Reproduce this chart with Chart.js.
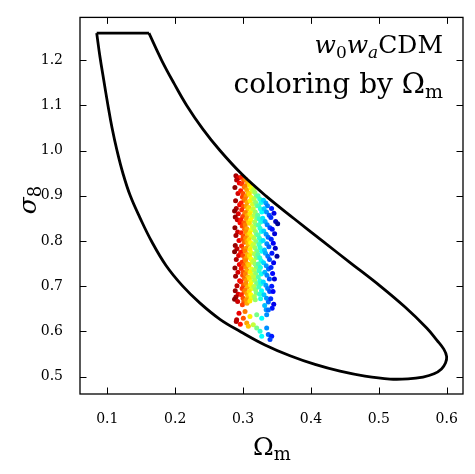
<!DOCTYPE html>
<html>
<head>
<meta charset="utf-8">
<script src="https://cdn.jsdelivr.net/npm/chart.js@4.4.1/dist/chart.umd.min.js"></script>
<style>
  body { margin: 0; background: #fff; overflow: hidden; }
</style>
</head>
<body>
<canvas id="myChart" width="475" height="474"></canvas>
<script>
// contour (closed curve), top edge kept as its own straight segment
const contourOmegaM = [0.1614, 0.1801, 0.1983, 0.2170, 0.2405, 0.2660, 0.2984, 0.3335, 0.3758, 0.4182,
  0.4600, 0.5017, 0.5386, 0.5705, 0.5857, 0.5957, 0.5999, 0.5982, 0.5923, 0.5813,
  0.5651, 0.5430, 0.5165, 0.4796, 0.4428, 0.4060, 0.3692, 0.3323, 0.2970, 0.2660,
  0.2366, 0.2108, 0.1865, 0.1654, 0.1482, 0.1339, 0.1231, 0.1143, 0.1069, 0.1010,
  0.0947, 0.0892, 0.0844];
const contourSigma8 = [1.2595, 1.1996, 1.1485, 1.0997, 1.0480, 1.0000, 0.9473, 0.8997, 0.8485, 0.7983,
  0.7495, 0.7007, 0.6538, 0.6075, 0.5803, 0.5607, 0.5443, 0.5301, 0.5170, 0.5061,
  0.4990, 0.4950, 0.4946, 0.5011, 0.5120, 0.5269, 0.5461, 0.5700, 0.5988, 0.6267,
  0.6625, 0.7007, 0.7458, 0.7988, 0.8511, 0.8997, 0.9492, 1.0000, 1.0508, 1.0997,
  1.1564, 1.2072, 1.2595];
const topEdgeOmegaM = [0.0844, 0.1614];
const topEdgeSigma8 = [1.2595, 1.2595];

// samples (colored by Omega_m)
const omegaM = [
  // dark red
  0.2895, 0.2935, 0.2905, 0.2945, 0.2880, 0.2925, 0.2890, 0.2950, 0.2900, 0.2875,
  0.2930, 0.2885, 0.2915, 0.2955, 0.2880, 0.2920, 0.2895, 0.2940, 0.2885, 0.2910,
  0.2875, 0.2935, 0.2900, 0.2945, 0.2880, 0.2925, 0.2890, 0.2950, 0.2910, 0.2885,
  0.2930, 0.2895, 0.2875, 0.2920, 0.2940, 0.2900, 0.2960,
  // red
  0.2975, 0.3010, 0.2985, 0.3020, 0.2965, 0.3000, 0.2990, 0.3015, 0.2970, 0.3005,
  0.2980, 0.3025, 0.2995, 0.2968, 0.3012, 0.2988, 0.3022, 0.2972, 0.3002, 0.2992,
  0.3018, 0.2978, 0.3008, 0.2966, 0.2998, 0.3024, 0.2984, 0.3014, 0.2974, 0.3004,
  0.2994, 0.3020, 0.2970, 0.3006, 0.2986, 0.3016, 0.2976, 0.3000, 0.3012, 0.2990,
  // orange
  0.3040, 0.3065, 0.3030, 0.3055, 0.3075, 0.3045, 0.3028, 0.3060, 0.3050, 0.3072,
  0.3035, 0.3062, 0.3048, 0.3078, 0.3032, 0.3056, 0.3042, 0.3068, 0.3038, 0.3058,
  0.3074, 0.3046, 0.3030, 0.3064, 0.3052, 0.3036, 0.3070, 0.3044, 0.3060, 0.3034,
  0.3076, 0.3050, 0.3040, 0.3066, 0.3032, 0.3054, 0.3072, 0.3046, 0.3058,
  // yellow
  0.3095, 0.3115, 0.3135, 0.3090, 0.3125, 0.3105, 0.3140, 0.3085, 0.3120, 0.3100,
  0.3130, 0.3110, 0.3092, 0.3138, 0.3118, 0.3098, 0.3128, 0.3088, 0.3112, 0.3134,
  0.3102, 0.3122, 0.3094, 0.3116, 0.3136, 0.3086, 0.3126, 0.3106, 0.3132, 0.3096,
  0.3120, 0.3108, 0.3130, 0.3090, 0.3114, 0.3124, 0.3100,
  // green
  0.3155, 0.3175, 0.3195, 0.3160, 0.3185, 0.3205, 0.3150, 0.3180, 0.3165, 0.3200,
  0.3170, 0.3190, 0.3158, 0.3182, 0.3198, 0.3162, 0.3188, 0.3152, 0.3176, 0.3202,
  0.3168, 0.3192, 0.3156, 0.3178, 0.3196, 0.3164, 0.3186, 0.3154, 0.3172, 0.3200,
  0.3160, 0.3184, 0.3194, 0.3166, 0.3180,
  // cyan
  0.3220, 0.3245, 0.3265, 0.3230, 0.3255, 0.3275, 0.3215, 0.3240, 0.3260, 0.3228,
  0.3250, 0.3270, 0.3222, 0.3242, 0.3262, 0.3234, 0.3252, 0.3274, 0.3218, 0.3246,
  0.3266, 0.3226, 0.3256, 0.3236, 0.3268, 0.3224, 0.3248, 0.3260, 0.3232, 0.3272,
  0.3244, 0.3258,
  // blue
  0.3300, 0.3335, 0.3360, 0.3310, 0.3345, 0.3385, 0.3290, 0.3325, 0.3355, 0.3395,
  0.3305, 0.3340, 0.3370, 0.3295, 0.3350, 0.3380, 0.3315, 0.3330, 0.3365, 0.3390,
  0.3302, 0.3342, 0.3375, 0.3320, 0.3352, 0.3388, 0.3298, 0.3336, 0.3362, 0.3392,
  0.3308, 0.3346, 0.3372, 0.3318, 0.3340,
  // dark blue
  0.3420, 0.3455, 0.3410, 0.3480, 0.3510, 0.3430, 0.3465, 0.3415, 0.3445, 0.3475,
  0.3425, 0.3500, 0.3450, 0.3412, 0.3435, 0.3462, 0.3422, 0.3442, 0.3408, 0.3452,
  0.3428,
  // sparse tail
  0.3029, 0.3004, 0.3102, 0.3201, 0.3275, 0.3348, 0.3372, 0.3151, 0.3201, 0.3250,
  0.3275, 0.3348, 0.3372, 0.3422, 0.3397, 0.3054, 0.2906, 0.3078];
const sigma8 = [
  // dark red
  0.944, 0.940, 0.935, 0.928, 0.918, 0.905, 0.889, 0.880, 0.872, 0.866,
  0.860, 0.853, 0.847, 0.840, 0.829, 0.820, 0.812, 0.801, 0.790, 0.783,
  0.776, 0.768, 0.759, 0.748, 0.740, 0.731, 0.722, 0.712, 0.701, 0.690,
  0.682, 0.676, 0.671, 0.666, 0.640, 0.622, 0.616,
  // red
  0.941, 0.934, 0.926, 0.919, 0.911, 0.905, 0.897, 0.890, 0.884, 0.876,
  0.869, 0.861, 0.854, 0.847, 0.840, 0.833, 0.826, 0.818, 0.811, 0.804,
  0.797, 0.789, 0.782, 0.775, 0.768, 0.760, 0.753, 0.746, 0.739, 0.731,
  0.724, 0.717, 0.710, 0.702, 0.695, 0.688, 0.681, 0.673, 0.666, 0.659,
  // orange
  0.936, 0.928, 0.921, 0.913, 0.906, 0.899, 0.892, 0.885, 0.877, 0.870,
  0.863, 0.856, 0.849, 0.842, 0.835, 0.827, 0.820, 0.813, 0.806, 0.799,
  0.792, 0.784, 0.777, 0.770, 0.763, 0.756, 0.749, 0.741, 0.734, 0.727,
  0.720, 0.713, 0.706, 0.698, 0.691, 0.684, 0.677, 0.670, 0.662,
  // yellow
  0.924, 0.917, 0.910, 0.903, 0.896, 0.889, 0.881, 0.874, 0.867, 0.860,
  0.853, 0.846, 0.839, 0.832, 0.824, 0.817, 0.810, 0.803, 0.796, 0.789,
  0.781, 0.774, 0.767, 0.760, 0.753, 0.746, 0.738, 0.731, 0.724, 0.717,
  0.710, 0.703, 0.695, 0.688, 0.681, 0.674, 0.667,
  // green
  0.914, 0.907, 0.899, 0.892, 0.885, 0.878, 0.871, 0.864, 0.857, 0.849,
  0.842, 0.835, 0.828, 0.821, 0.814, 0.806, 0.799, 0.792, 0.785, 0.778,
  0.771, 0.763, 0.756, 0.749, 0.742, 0.735, 0.728, 0.720, 0.713, 0.706,
  0.699, 0.692, 0.685, 0.677, 0.670,
  // cyan
  0.900, 0.893, 0.885, 0.878, 0.871, 0.864, 0.857, 0.849, 0.842, 0.835,
  0.828, 0.821, 0.813, 0.806, 0.799, 0.792, 0.785, 0.777, 0.770, 0.763,
  0.756, 0.749, 0.741, 0.734, 0.727, 0.720, 0.712, 0.705, 0.698, 0.690,
  0.682, 0.672,
  // blue
  0.890, 0.884, 0.878, 0.871, 0.864, 0.857, 0.850, 0.843, 0.836, 0.829,
  0.822, 0.815, 0.808, 0.801, 0.794, 0.787, 0.780, 0.773, 0.766, 0.759,
  0.752, 0.745, 0.738, 0.731, 0.724, 0.716, 0.709, 0.702, 0.695, 0.688,
  0.681, 0.673, 0.665, 0.657, 0.648,
  // dark blue
  0.872, 0.861, 0.852, 0.843, 0.838, 0.826, 0.816, 0.804, 0.795, 0.784,
  0.773, 0.766, 0.752, 0.741, 0.728, 0.716, 0.700, 0.688, 0.672, 0.660,
  0.651,
  // sparse tail
  0.6439, 0.6293, 0.6329, 0.6366, 0.6293, 0.6366, 0.6475, 0.6148, 0.6076, 0.6002,
  0.5893, 0.6076, 0.5930, 0.5893, 0.5820, 0.6184, 0.6257, 0.6111];

const xTicks = [0.1, 0.2, 0.3, 0.4, 0.5, 0.6];
const yTicks = [0.5, 0.6, 0.7, 0.8, 0.9, 1.0, 1.1, 1.2];

// reversed jet colormap
const colorLo = 0.287, colorHi = 0.352;
function jet(v) {
  const c = x => Math.round(255 * Math.max(0, Math.min(1, x)));
  return `rgb(${c(1.5 - Math.abs(4 * v - 3))},${c(1.5 - Math.abs(4 * v - 2))},${c(1.5 - Math.abs(4 * v - 1))})`;
}
const pointColors = omegaM.map(om => jet(1 - Math.max(0, Math.min(1, (om - colorLo) / (colorHi - colorLo)))));

const zip = (xs, ys) => xs.map((x, i) => ({ x: x, y: ys[i] }));
const SERIF = "'DejaVu Serif', serif";

// draws a run of text pieces (for sub-scripts)
function drawParts(ctx, parts, x, y, align) {
  let w = 0;
  parts.forEach(p => { ctx.font = p.font; w += ctx.measureText(p.text).width; });
  let cx = align === 'right' ? x - w : align === 'center' ? x - w / 2 : x;
  ctx.textAlign = 'left';
  ctx.textBaseline = 'alphabetic';
  parts.forEach(p => {
    ctx.font = p.font;
    ctx.fillText(p.text, cx, y + (p.dy || 0));
    cx += ctx.measureText(p.text).width;
  });
}

const framePlugin = {
  id: 'frame',
  afterDraw(chart) {
    const ctx = chart.ctx;
    const a = chart.chartArea;
    const xs = chart.scales.x, ys = chart.scales.y;
    ctx.save();
    ctx.strokeStyle = '#000';
    ctx.fillStyle = '#000';
    ctx.lineWidth = 1.3;
    ctx.strokeRect(a.left, a.top, a.right - a.left, a.bottom - a.top);
    // inward ticks on all four sides
    ctx.lineWidth = 1;
    const tl = 6.5;
    ctx.beginPath();
    xTicks.forEach(v => {
      const px = Math.round(xs.getPixelForValue(v)) + 0.5;
      ctx.moveTo(px, a.bottom); ctx.lineTo(px, a.bottom - tl);
      ctx.moveTo(px, a.top); ctx.lineTo(px, a.top + tl);
    });
    yTicks.forEach(v => {
      const py = Math.round(ys.getPixelForValue(v)) + 0.5;
      ctx.moveTo(a.left, py); ctx.lineTo(a.left + tl, py);
      ctx.moveTo(a.right, py); ctx.lineTo(a.right - tl, py);
    });
    ctx.stroke();

    // annotation
    drawParts(ctx, [
      { text: 'w', font: 'italic 25px ' + SERIF },
      { text: '0', font: '17px ' + SERIF, dy: 5 },
      { text: 'w', font: 'italic 25px ' + SERIF },
      { text: 'a', font: 'italic 17px ' + SERIF, dy: 5 },
      { text: 'CDM', font: '25px ' + SERIF }
    ], 443, 53, 'right');
    drawParts(ctx, [
      { text: 'coloring by Ω', font: '28px ' + SERIF },
      { text: 'm', font: '19px ' + SERIF, dy: 5 }
    ], 443, 93, 'right');

    // axis titles
    drawParts(ctx, [
      { text: 'Ω', font: '25px ' + SERIF },
      { text: 'm', font: '18px ' + SERIF, dy: 5 }
    ], 272, 455, 'center');
    ctx.translate(36, 200);
    ctx.rotate(-Math.PI / 2);
    drawParts(ctx, [
      { text: 'σ', font: 'italic 25px ' + SERIF },
      { text: '8', font: '18px ' + SERIF, dy: 5 }
    ], 0, 0, 'center');
    ctx.restore();
  }
};

let canvas = document.getElementById('myChart');
let ctx = canvas.getContext('2d');
let chart = new Chart(ctx, {
  type: 'scatter',
  data: {
    datasets: [
      {
        label: 'contour',
        data: zip(contourOmegaM, contourSigma8),
        showLine: true,
        borderColor: '#000',
        borderWidth: 2.8,
        pointRadius: 0,
        tension: 0.4,
        fill: false
      },
      {
        label: 'top',
        data: zip(topEdgeOmegaM, topEdgeSigma8),
        showLine: true,
        borderColor: '#000',
        borderWidth: 2.8,
        pointRadius: 0,
        fill: false
      },
      {
        label: 'samples',
        data: zip(omegaM, sigma8),
        backgroundColor: pointColors,
        borderWidth: 0,
        pointRadius: 2.5
      }
    ]
  },
  options: {
    responsive: false,
    animation: false,
    layout: { padding: { left: 0, right: 12, top: 12, bottom: 0 } },
    plugins: { legend: { display: false }, tooltip: { enabled: false } },
    scales: {
      x: {
        type: 'linear',
        min: 0.0598,
        max: 0.624,
        afterFit(s) { s.height = 80; },
        afterBuildTicks(s) { s.ticks = xTicks.map(v => ({ value: v })); },
        grid: { display: false },
        border: { display: false },
        ticks: {
          font: { family: 'DejaVu Serif', size: 14 },
          color: '#000',
          padding: 9,
          maxRotation: 0,
          callback: v => v.toFixed(1)
        }
      },
      y: {
        type: 'linear',
        min: 0.4615,
        max: 1.2944,
        afterFit(s) { s.width = 80; },
        afterBuildTicks(s) { s.ticks = yTicks.map(v => ({ value: v })); },
        grid: { display: false },
        border: { display: false },
        ticks: {
          font: { family: 'DejaVu Serif', size: 14 },
          color: '#000',
          padding: 9,
          callback: v => v.toFixed(1)
        }
      }
    }
  },
  plugins: [framePlugin]
});
</script>
</body>
</html>
